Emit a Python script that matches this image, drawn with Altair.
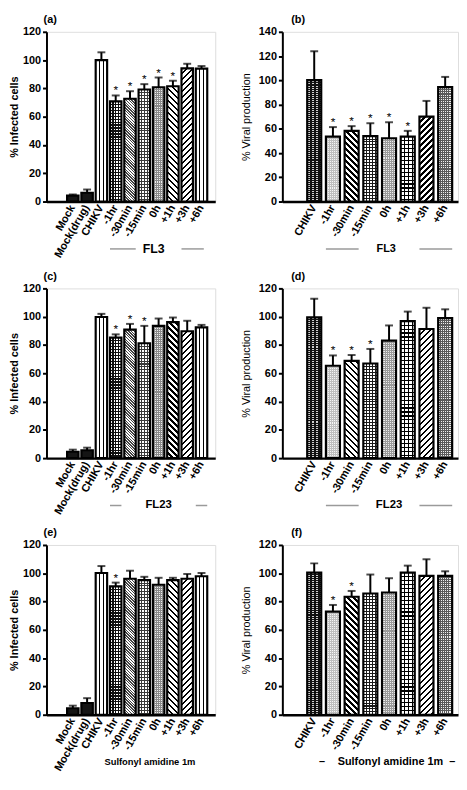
import math
import altair as alt
import pandas as pd

FONT = "Liberation Sans"
H = 172
W_INF = 171
W_VIR = 178

# ---------------- data ----------------
cats_inf = ["Mock", "Mock(drug)", "CHIKV", "-1hr", "-30min", "-15min", "0h", "+1h", "+3h", "+6h"]
cats_vir = ["CHIKV", "-1hr", "-30min", "-15min", "0h", "+1h", "+3h", "+6h"]

inf_fl3 = [4.2, 6.2, 100.0, 70.8, 72.7, 79.2, 80.8, 81.5, 94.2, 94.0]
inf_fl3_err = [0.8, 2.3, 5.5, 4.2, 5.3, 3.8, 6.9, 3.9, 3.2, 1.8]
inf_fl3_star = [0, 0, 0, 1, 1, 1, 1, 1, 0, 0]

vir_fl3 = [100.2, 53.5, 58.3, 54.0, 52.2, 53.5, 70.1, 94.4]
vir_fl3_err = [23.8, 7.9, 3.9, 10.6, 13.2, 4.8, 12.9, 8.4]
vir_fl3_star = [0, 1, 1, 1, 1, 1, 0, 0]

inf_fl23 = [4.5, 5.6, 99.8, 85.2, 90.8, 81.2, 93.5, 96.2, 89.7, 92.4]
inf_fl23_err = [1.5, 1.8, 2.2, 2.3, 4.1, 12.3, 5.2, 3.2, 7.4, 1.8]
inf_fl23_star = [0, 0, 0, 1, 1, 1, 0, 0, 0, 0]

vir_fl23 = [99.5, 65.3, 68.8, 66.9, 83.1, 96.8, 91.3, 99.0]
vir_fl23_err = [13.2, 7.3, 4.1, 10.3, 10.7, 6.8, 15.0, 6.2]
vir_fl23_star = [0, 1, 1, 1, 0, 0, 0, 0]

inf_sa = [4.6, 8.3, 100.2, 90.7, 96.1, 95.2, 91.9, 95.2, 96.1, 97.9]
inf_sa_err = [1.8, 3.4, 4.9, 2.7, 5.7, 2.3, 4.9, 1.6, 3.4, 2.3]
inf_sa_star = [0, 0, 0, 1, 0, 0, 0, 0, 0, 0]

vir_sa = [100.5, 72.9, 83.4, 85.7, 86.4, 100.5, 98.2, 98.2]
vir_sa_err = [6.5, 4.7, 4.1, 13.4, 10.1, 4.9, 11.7, 3.2]
vir_sa_star = [0, 1, 1, 0, 0, 0, 0, 0]

panel_letters = ["(a)", "(b)", "(c)", "(d)", "(e)", "(f)"]
group_names = ["FL3", "FL23", "Sulfonyl amidine 1m"]
y_titles = ["% Infected cells", "% Viral production"]

# ---------------- patterns ----------------
BLACK = "#000000"
WHITE = "#ffffff"
CLEAR = "rgba(0,0,0,0)"

pat_inf = {
    "Mock": {"kind": "solid", "color": "#151515"},
    "Mock(drug)": {"kind": "solid", "color": "#151515"},
    "CHIKV": {"kind": "v", "p": 3.9, "lf": 0.3, "line": BLACK, "bg": WHITE},
    "-1hr": {"kind": "grid", "p": 3.0, "lf": 0.4, "line": "#111111", "bg": WHITE},
    "-30min": {"kind": "down", "p": 2.0, "lf": 0.5, "line": "#444444", "bg": WHITE},
    "-15min": {"kind": "grid", "p": 3.0, "lf": 0.34, "line": "#3a3a3a", "bg": WHITE},
    "0h": {"kind": "grid", "p": 2.0, "lf": 0.5, "line": "#8a8a8a", "bg": "#eeeeee"},
    "+1h": {"kind": "down", "p": 4.3, "lf": 0.38, "line": BLACK, "bg": WHITE},
    "+3h": {"kind": "up", "p": 4.3, "lf": 0.38, "line": BLACK, "bg": WHITE},
    "+6h": {"kind": "v", "p": 3.9, "lf": 0.3, "line": BLACK, "bg": WHITE},
}
pat_vir = {
    "CHIKV": {"kind": "grid", "p": 2.0, "pv": 4.0, "lf": 0.5, "line": "#111111", "bg": "#d0d0d0"},
    "-1hr": {"kind": "grid", "p": 2.0, "lf": 0.5, "line": "#c0c0c0", "bg": "#f6f6f6"},
    "-30min": {"kind": "down", "p": 4.3, "lf": 0.38, "line": BLACK, "bg": WHITE},
    "-15min": {"kind": "grid", "p": 3.0, "lf": 0.34, "line": "#1a1a1a", "bg": WHITE},
    "0h": {"kind": "grid", "p": 2.0, "lf": 0.5, "line": "#9a9a9a", "bg": "#ececec"},
    "+1h": {"kind": "grid", "p": 4.0, "lf": 0.28, "line": BLACK, "bg": WHITE},
    "+3h": {"kind": "up", "p": 4.3, "lf": 0.38, "line": BLACK, "bg": WHITE},
    "+6h": {"kind": "grid", "p": 2.0, "lf": 0.5, "line": "#5a5a5a", "bg": "#f0f0f0"},
}

# band layout for the two panel kinds
LAY_INF = {"w": W_INF, "pi": 0.2, "po": 1.0, "al": 0.72, "tx": -27, "lx": -3}
LAY_VIR = {"w": W_VIR, "pi": 0.25, "po": 0.82, "al": 0.81, "tx": -31, "lx": 9}


def band_width(n, lay):
    step = lay["w"] / (n - lay["pi"] + 2 * lay["po"])
    return step * (1 - lay["pi"])


def make_stops(n, lf, line, bg):
    phase = -lf / 2.0
    out = [(0.0, bg)]
    k = -2
    while True:
        s = (k + phase) / n
        if s >= 1:
            break
        e = (k + phase + lf) / n
        sc, ec = max(0.0, s), min(1.0, e)
        if ec > sc:
            out += [(sc, bg), (sc, line), (ec, line), (ec, bg)]
        k += 1
    out.append((1.0, bg))
    return [{"offset": round(o, 5), "color": c} for o, c in out]


def gradient(kind, w, h, p, lf, line, bg):
    if kind == "v":
        n, c = w / p, (0, 0, 1, 0)
    elif kind == "h":
        n, c = h / p, (0, 0, 0, 1)
    else:
        r = h / w
        a = (1 + r) / (1 + r * r)
        n = (w + h) / (p * math.sqrt(2))
        c = (0, 0, a, a * r) if kind == "up" else (0, 1, a, 1 - a * r)
    return {"gradient": "linear", "x1": round(c[0], 5), "y1": round(c[1], 5),
            "x2": round(c[2], 5), "y2": round(c[3], 5),
            "stops": make_stops(n, lf, line, bg)}


def panel(cats, vals, errs, stars, pats, lay, ymax, ytitle, letter, annots):
    df = pd.DataFrame({"cat": cats, "val": vals,
                       "top": [v + e for v, e in zip(vals, errs)], "star": stars})
    xscale = alt.Scale(domain=cats, paddingInner=lay["pi"], paddingOuter=lay["po"], align=lay["al"])
    xaxis = alt.Axis(title=None, labelAngle=-60, labelFontWeight="bold", labelFontSize=11,
                     labelColor="black", ticks=False, domainColor="black", domainWidth=2.5,
                     labelPadding=4, labelFont=FONT)
    yscale = alt.Scale(domain=[0, ymax], nice=False)
    yaxis = alt.Axis(title=ytitle, values=list(range(0, ymax + 1, 20)), grid=False,
                     tickSize=4, tickWidth=2, tickColor="black", domainColor="black",
                     domainWidth=2, labelFontWeight="bold", labelFontSize=11, labelColor="black",
                     labelPadding=2, titleFontSize=11, titleX=lay["tx"],
                     titleFontWeight="bold" if ytitle == y_titles[0] else "normal",
                     titleColor="black", labelFont=FONT, titleFont=FONT)

    def X(field="cat:N", **kw):
        return alt.X(field, scale=xscale, axis=xaxis, **kw)

    def Y(field):
        return alt.Y(field, scale=yscale, axis=yaxis)

    bw = band_width(len(cats), lay)
    layers = []
    for c, v in zip(cats, vals):
        pat = pats[c]
        base = alt.Chart(df).transform_filter(alt.datum.cat == c)
        h = v / ymax * H
        if pat["kind"] == "solid":
            fills = [pat["color"]]
        elif pat["kind"] == "grid":
            fills = [gradient("h", bw, h, pat["p"], pat["lf"], pat["line"], pat["bg"]),
                     gradient("v", bw, h, pat.get("pv", pat["p"]), pat["lf"], pat["line"], CLEAR)]
        else:
            fills = [gradient(pat["kind"], bw, h, pat["p"], pat["lf"], pat["line"], pat["bg"])]
        for f in fills:
            layers.append(base.mark_bar(fill=f, strokeWidth=0).encode(x=X(), y=Y("val:Q")))

    outline = alt.Chart(df).mark_bar(fillOpacity=0, stroke="black", strokeWidth=2.2).encode(
        x=X(), y=Y("val:Q"))
    err = alt.Chart(df).mark_rule(color="black", strokeWidth=2).encode(
        x=X(), y=Y("val:Q"), y2="top:Q")
    cap = alt.Chart(df).mark_tick(color="black", thickness=2, size=8).encode(
        x=X(), y=Y("top:Q"))
    star = alt.Chart(df).transform_filter("datum.star == 1").mark_text(
        text="*", fontSize=12, dy=-5, font=FONT, color="black", baseline="middle").encode(
        x=X(), y=Y("top:Q"))
    lab = pd.DataFrame({"label": [letter]})
    letter_mark = alt.Chart(lab).mark_text(
        fontSize=11, fontWeight="bold", font=FONT, color="black", align="left",
        baseline="middle").encode(text="label:N", x=alt.value(lay["lx"]), y=alt.value(-12))
    layers += [outline, err, cap, star, letter_mark]

    ylab = H + 48
    for a in annots:
        if a[0] == "rule":
            d = pd.DataFrame({"s": [a[1]], "e": [a[3]]})
            layers.append(alt.Chart(d).mark_rule(color="#9a9a9a", strokeWidth=1.5).encode(
                x=X("s:N", bandPosition=a[2]), x2=alt.X2("e:N", bandPosition=a[4]),
                y=alt.value(ylab)))
        else:
            d = pd.DataFrame({"c": [a[2]], "label": [a[1]]})
            layers.append(alt.Chart(d).mark_text(
                fontSize=a[5], fontWeight="bold", font=FONT, color="black",
                baseline="middle", dx=a[4]).encode(
                text="label:N", x=X("c:N", bandPosition=a[3]), y=alt.value(ylab)))

    return alt.layer(*layers).properties(width=lay["w"], height=H)


pa = panel(cats_inf, inf_fl3, inf_fl3_err, inf_fl3_star, pat_inf, LAY_INF, 120, y_titles[0],
           panel_letters[0],
           [("rule", "-1hr", 0, "-30min", 1), ("text", group_names[0], "0h", 0.5, -5, 12.5),
            ("rule", "+3h", 0, "+6h", 0.7)])
pb = panel(cats_vir, vir_fl3, vir_fl3_err, vir_fl3_star, pat_vir, LAY_VIR, 140, y_titles[1],
           panel_letters[1],
           [("rule", "-1hr", 0, "-30min", 1), ("text", group_names[0], "0h", 0.3, 0, 11),
            ("rule", "+3h", 0, "+6h", 1)])
pc = panel(cats_inf, inf_fl23, inf_fl23_err, inf_fl23_star, pat_inf, LAY_INF, 120, y_titles[0],
           panel_letters[2],
           [("rule", "-1hr", 0, "-1hr", 1), ("text", group_names[1], "0h", 0.5, 0, 11.5),
            ("rule", "+6h", 0, "+6h", 1)])
pd_ = panel(cats_vir, vir_fl23, vir_fl23_err, vir_fl23_star, pat_vir, LAY_VIR, 120, y_titles[1],
            panel_letters[3],
            [("rule", "-1hr", 0, "-30min", 1), ("text", group_names[1], "0h", 0.5, 0, 11.5),
             ("rule", "+3h", 0, "+6h", 1)])
pe = panel(cats_inf, inf_sa, inf_sa_err, inf_sa_star, pat_inf, LAY_INF, 120, y_titles[0],
           panel_letters[4],
           [("text", group_names[2], "0h", 0, -3, 9.5)])
pf = panel(cats_vir, vir_sa, vir_sa_err, vir_sa_star, pat_vir, LAY_VIR, 120, y_titles[1],
           panel_letters[5],
           [("text", "–", "-1hr", 0, -4, 11), ("text", group_names[2], "0h", 0.6, 0, 11),
            ("text", "–", "+6h", 1, 0, 11)])

chart = alt.concat(pa, pb, pc, pd_, pe, pf, columns=2, align="each",
                   spacing={"row": 88, "column": 68}, bounds="flush").properties(
    padding=0).configure_view(stroke=None).configure(font=FONT)

chart.save("out.html", embed_options={"renderer": "svg", "actions": False})
